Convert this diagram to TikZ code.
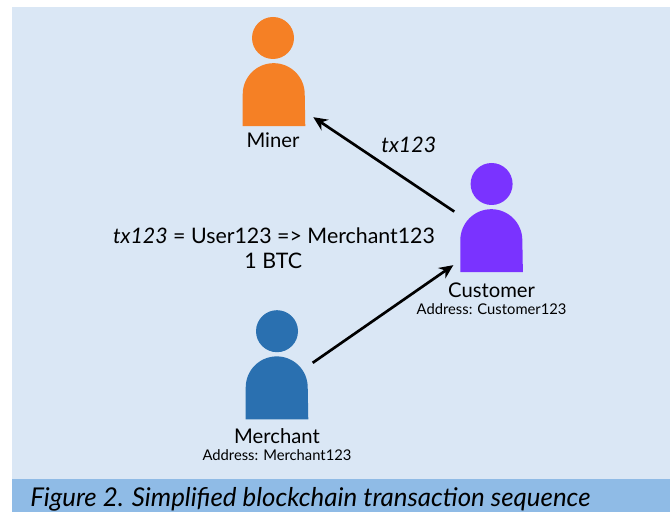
\documentclass[tikz,border=0pt]{standalone}
\usepackage{fontspec}
\setmainfont{Lato}
\usetikzlibrary{arrows.meta}
\definecolor{panelblue}{HTML}{DAE7F5}
\definecolor{bandblue}{HTML}{8FBBE6}
\definecolor{minerorange}{HTML}{F58025}
\definecolor{customerpurple}{HTML}{7A33FF}
\definecolor{merchantblue}{HTML}{2A70B0}
\tikzset{
  personhead/.style={circle, minimum size=1.05cm, inner sep=0pt},
  torso/.style={rectangle, minimum width=1.55cm, minimum height=1.575cm, inner sep=0pt},
  biglabel/.style={font=\fontsize{14.4}{16}\selectfont, inner sep=0pt},
  txtext/.style={font=\fontsize{15.2}{17}\selectfont, inner sep=0pt},
  addr/.style={font=\fontsize{10.5}{12}\selectfont, inner sep=0pt},
  flow/.style={line width=1.9pt, -{Stealth[length=10pt,width=9pt]}}
}
\begin{document}
\begin{tikzpicture}
            \useasboundingbox (0,0) rectangle (16.75,12.8);
            \fill[panelblue] (0.3,0.825) rectangle (16.75,12.625); %This is the pale panel
            \fill[bandblue] (0.3,0) rectangle (16.75,0.825); %This is the caption band
                  \node (caption) [anchor=west, inner sep=0pt, font=\fontsize{18.4}{21}\selectfont\itshape] at (0.75,0.32) {Figure 2. Simplified blockchain transaction sequence};

            \node [personhead, fill=minerorange] (minerhead) at (6.825,11.85) {}; %This is the miner
            \node [torso] (miner) at (6.85,10.44) {};
            \fill[minerorange] (miner.south west) -- ++(0,0.8) arc (180:0:0.775) -- (miner.south east) -- cycle;
                  \node [biglabel] (minerlabel) at (6.825,9.3) {Miner};

            \node [personhead, fill=customerpurple] (customerhead) at (12.29,8.2) {}; %This is the customer
            \node [torso] (customer) at (12.29,6.79) {};
            \fill[customerpurple] (customer.south west) -- ++(0,0.8) arc (180:0:0.775) -- (customer.south east) -- cycle;
                  \node [biglabel] (customerlabel) at (12.29,5.55) {Customer};
                  \node [addr] (customeraddr) at (12.29,5.07) {Address: Customer123};

            \node [personhead, fill=merchantblue] (merchanthead) at (6.925,4.52) {}; %This is the merchant
            \node [torso] (merchant) at (6.925,3.11) {};
            \fill[merchantblue] (merchant.south west) -- ++(0,0.8) arc (180:0:0.775) -- (merchant.south east) -- cycle;
                  \node [biglabel] (merchantlabel) at (6.925,1.9) {Merchant};
                  \node [addr] (merchantaddr) at (6.925,1.42) {Address: Merchant123};

            \node [txtext] (txlabel) at (10.22,9.17) {\itshape tx123};
            \node [txtext] (txline) at (6.85,6.9) {\textit{tx123} = User123 => Merchant123}; % This is the transaction
            \node [txtext] (btcline) at (6.83,6.27) {1 BTC};

            \draw[flow] ([shift={(-0.15,-0.075)}]customer.north west) -- ([shift={(0.2,0.225)}]miner.south east); % arrow from customer to miner
            \draw[flow] ([shift={(0.11,-0.175)}]merchant.north east) -- ([shift={(-0.175,0.175)}]customer.south west); % arrow from merchant to customer
      \end{tikzpicture}
\end{document}
